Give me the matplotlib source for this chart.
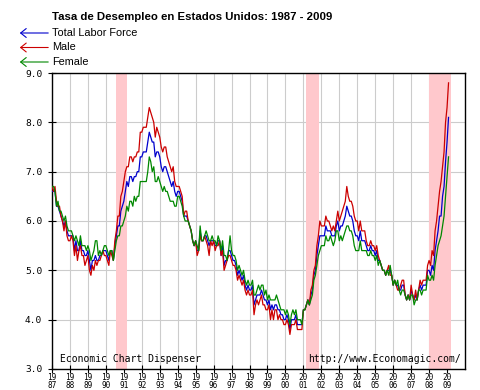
import numpy as np
import matplotlib
matplotlib.use("Agg")
import matplotlib.pyplot as plt
from matplotlib.patches import FancyArrowPatch

# monthly rates, Jan 1987 - Feb 2009 (one row per year)
total = [
    6.6, 6.6, 6.6, 6.3, 6.3, 6.2, 6.1, 6.0, 5.9, 6.0, 5.8, 5.7,
    5.7, 5.7, 5.7, 5.4, 5.6, 5.4, 5.4, 5.6, 5.4, 5.4, 5.3, 5.3,
    5.4, 5.2, 5.0, 5.2, 5.2, 5.3, 5.2, 5.2, 5.3, 5.3, 5.4, 5.4,
    5.4, 5.3, 5.2, 5.4, 5.4, 5.2, 5.5, 5.7, 5.9, 5.9, 6.2, 6.3,
    6.4, 6.6, 6.8, 6.7, 6.9, 6.9, 6.8, 6.9, 6.9, 7.0, 7.0, 7.3,
    7.3, 7.4, 7.4, 7.4, 7.6, 7.8, 7.7, 7.6, 7.6, 7.3, 7.4, 7.4,
    7.3, 7.1, 7.0, 7.1, 7.1, 7.0, 6.9, 6.8, 6.7, 6.8, 6.6, 6.5,
    6.6, 6.6, 6.5, 6.4, 6.1, 6.1, 6.1, 6.0, 5.9, 5.8, 5.6, 5.5,
    5.6, 5.4, 5.4, 5.8, 5.6, 5.6, 5.7, 5.7, 5.6, 5.5, 5.6, 5.6,
    5.6, 5.5, 5.5, 5.6, 5.6, 5.3, 5.5, 5.1, 5.2, 5.2, 5.4, 5.4,
    5.3, 5.2, 5.2, 5.1, 4.9, 5.0, 4.9, 4.8, 4.9, 4.7, 4.6, 4.7,
    4.6, 4.6, 4.7, 4.3, 4.4, 4.5, 4.5, 4.5, 4.6, 4.5, 4.4, 4.4,
    4.3, 4.4, 4.2, 4.3, 4.2, 4.3, 4.3, 4.2, 4.2, 4.1, 4.1, 4.0,
    4.0, 4.1, 4.0, 3.8, 4.0, 4.0, 4.0, 4.1, 3.9, 3.9, 3.9, 3.9,
    4.2, 4.2, 4.3, 4.4, 4.3, 4.5, 4.6, 4.9, 5.0, 5.3, 5.5, 5.7,
    5.7, 5.7, 5.7, 5.9, 5.8, 5.8, 5.8, 5.7, 5.7, 5.7, 5.9, 6.0,
    5.8, 5.9, 5.9, 6.0, 6.1, 6.3, 6.2, 6.1, 6.1, 6.0, 5.8, 5.7,
    5.7, 5.6, 5.8, 5.6, 5.6, 5.6, 5.5, 5.4, 5.4, 5.5, 5.4, 5.4,
    5.3, 5.4, 5.2, 5.2, 5.1, 5.0, 5.0, 4.9, 5.0, 5.0, 5.0, 4.9,
    4.7, 4.8, 4.7, 4.7, 4.6, 4.6, 4.7, 4.7, 4.5, 4.4, 4.5, 4.4,
    4.6, 4.5, 4.4, 4.5, 4.4, 4.6, 4.7, 4.6, 4.7, 4.7, 4.7, 5.0,
    5.0, 4.9, 5.1, 5.0, 5.4, 5.6, 5.8, 6.1, 6.1, 6.5, 6.7, 7.2,
    7.6, 8.1,
]
male = [
    6.7, 6.6, 6.7, 6.4, 6.3, 6.3, 6.1, 6.0, 5.8, 6.0, 5.7, 5.6,
    5.6, 5.7, 5.6, 5.3, 5.5, 5.2, 5.4, 5.5, 5.3, 5.3, 5.1, 5.2,
    5.3, 5.0, 4.9, 5.1, 5.0, 5.2, 5.1, 5.2, 5.2, 5.3, 5.4, 5.3,
    5.3, 5.2, 5.1, 5.4, 5.3, 5.2, 5.6, 5.8, 6.1, 6.1, 6.5, 6.6,
    6.8, 7.0, 7.1, 7.1, 7.3, 7.3, 7.2, 7.3, 7.3, 7.4, 7.4, 7.8,
    7.8, 7.9, 7.9, 7.9, 8.1, 8.3, 8.2, 8.1, 8.0, 7.7, 7.9, 7.8,
    7.7, 7.5, 7.4, 7.5, 7.5, 7.3, 7.2, 7.1, 7.0, 7.1, 6.8, 6.7,
    6.7, 6.7, 6.6, 6.5, 6.1, 6.2, 6.2, 6.0, 5.9, 5.8, 5.6, 5.5,
    5.6, 5.3, 5.4, 5.7, 5.6, 5.6, 5.7, 5.6, 5.5, 5.3, 5.6, 5.5,
    5.6, 5.4, 5.5, 5.5, 5.6, 5.3, 5.4, 5.0, 5.1, 5.2, 5.3, 5.3,
    5.2, 5.1, 5.1, 5.0, 4.8, 4.9, 4.8, 4.7, 4.8, 4.6, 4.5, 4.6,
    4.5, 4.5, 4.6, 4.1, 4.3, 4.4, 4.3, 4.4, 4.5, 4.3, 4.3, 4.2,
    4.2, 4.3, 4.0, 4.2, 4.0, 4.2, 4.2, 4.0, 4.1, 4.0, 4.0, 3.9,
    3.9, 4.0, 3.9, 3.7, 3.9, 3.9, 3.9, 4.0, 3.8, 3.8, 3.8, 3.8,
    4.2, 4.2, 4.3, 4.4, 4.3, 4.6, 4.7, 5.0, 5.1, 5.5, 5.7, 6.0,
    5.9, 5.9, 5.9, 6.1, 6.0, 6.0, 5.9, 5.8, 5.9, 5.8, 6.0, 6.2,
    6.0, 6.1, 6.2, 6.3, 6.4, 6.7, 6.5, 6.4, 6.4, 6.3, 6.1, 6.0,
    6.0, 5.8, 6.0, 5.8, 5.8, 5.8, 5.6, 5.5, 5.5, 5.6, 5.5, 5.5,
    5.4, 5.5, 5.3, 5.2, 5.1, 5.0, 5.0, 4.9, 5.0, 5.1, 4.9, 4.9,
    4.7, 4.8, 4.7, 4.6, 4.6, 4.7, 4.8, 4.8, 4.5, 4.4, 4.5, 4.4,
    4.7, 4.5, 4.4, 4.6, 4.4, 4.6, 4.8, 4.7, 4.8, 4.8, 4.8, 5.1,
    5.2, 5.1, 5.4, 5.3, 5.8, 6.0, 6.3, 6.6, 6.8, 7.1, 7.4, 8.0,
    8.3, 8.8,
]
female = [
    6.7, 6.7, 6.6, 6.3, 6.4, 6.2, 6.2, 6.1, 6.0, 6.1, 5.9, 5.8,
    5.8, 5.8, 5.7, 5.6, 5.7, 5.6, 5.5, 5.7, 5.5, 5.5, 5.5, 5.4,
    5.5, 5.4, 5.2, 5.3, 5.4, 5.6, 5.6, 5.3, 5.4, 5.3, 5.4, 5.5,
    5.5, 5.4, 5.3, 5.4, 5.4, 5.2, 5.4, 5.6, 5.7, 5.7, 5.9, 5.9,
    6.0, 6.1, 6.3, 6.2, 6.4, 6.4, 6.3, 6.5, 6.4, 6.5, 6.5, 6.8,
    6.8, 6.8, 6.8, 6.8, 7.0, 7.3, 7.2, 7.0, 7.1, 6.8, 6.8, 6.9,
    6.8, 6.7, 6.6, 6.7, 6.6, 6.6, 6.5, 6.4, 6.4, 6.4, 6.3, 6.3,
    6.5, 6.5, 6.4, 6.3, 6.1, 6.0, 6.0, 6.0, 5.9, 5.8, 5.6, 5.5,
    5.6, 5.5, 5.4, 5.9, 5.6, 5.6, 5.7, 5.8, 5.7, 5.6, 5.6, 5.7,
    5.6, 5.6, 5.5, 5.7, 5.6, 5.4, 5.6, 5.3, 5.3, 5.2, 5.4, 5.7,
    5.4, 5.3, 5.3, 5.2, 5.0, 5.1, 5.0, 4.9, 5.0, 4.8, 4.7, 4.8,
    4.7, 4.7, 4.8, 4.5, 4.5, 4.6, 4.7, 4.6, 4.7, 4.7, 4.5, 4.6,
    4.4, 4.5, 4.4, 4.4, 4.4, 4.4, 4.5, 4.4, 4.3, 4.2, 4.2, 4.2,
    4.1, 4.2, 4.1, 3.9, 4.1, 4.2, 4.1, 4.2, 4.0, 4.0, 4.0, 3.9,
    4.2, 4.2, 4.3, 4.4, 4.3, 4.4, 4.5, 4.8, 4.9, 5.1, 5.3, 5.4,
    5.5, 5.5, 5.5, 5.7, 5.6, 5.6, 5.7, 5.6, 5.5, 5.6, 5.8, 5.8,
    5.6, 5.7, 5.6, 5.7, 5.8, 5.9, 5.9, 5.8, 5.8, 5.7, 5.5, 5.4,
    5.4, 5.4, 5.6, 5.4, 5.4, 5.4, 5.4, 5.3, 5.3, 5.4, 5.3, 5.3,
    5.2, 5.3, 5.1, 5.2, 5.1, 5.0, 5.0, 4.9, 5.0, 4.9, 5.1, 4.9,
    4.7, 4.8, 4.7, 4.8, 4.6, 4.5, 4.6, 4.6, 4.5, 4.4, 4.5, 4.4,
    4.5, 4.5, 4.3, 4.4, 4.4, 4.6, 4.6, 4.5, 4.6, 4.6, 4.6, 4.9,
    4.8, 4.8, 4.9, 4.8, 5.1, 5.3, 5.5, 5.6, 5.7, 5.9, 6.1, 6.5,
    6.9, 7.3,
]
series_names = ["Total Labor Force", "Male", "Female"]
series_colors = ["#0000cc", "#cc0000", "#008800"]
recessions = [(1990.55, 1991.2), (2001.15, 2001.87), (2007.97, 2009.2)]
years = list(range(1987, 2010))
year_labels = [str(y)[:2] + "\n" + str(y)[2:] for y in years]
yticks = [3.0, 4.0, 5.0, 6.0, 7.0, 8.0, 9.0]

W, H = 480, 390
t = 1987 + np.arange(len(total)) / 12.0

fig = plt.figure(figsize=(4.8, 3.9), dpi=100)
ax = fig.add_axes([52 / W, 1 - 369 / H, (465 - 52) / W, (369 - 73) / H])

for a, b in recessions:
    ax.axvspan(a, b, color="#ffc8cc", lw=0, zorder=1)

for vals, c in zip([total, male, female], series_colors):
    ax.plot(t, vals, color=c, lw=0.9, zorder=3)

ax.set_xlim(1987, 2010)
ax.set_ylim(3, 9)
ax.set_yticks(yticks, ["%.1f" % v for v in yticks],
              family="DejaVu Sans Mono", fontsize=6.8)
ax.set_xticks(years, year_labels, family="DejaVu Sans Mono", fontsize=5.6,
              linespacing=0.85)
ax.grid(True, color="#cccccc", lw=0.8, zorder=0)
ax.set_axisbelow(True)
ax.tick_params(axis="both", direction="inout", length=6, width=0.8,
               color="black")
ax.tick_params(axis="y", pad=4)
ax.tick_params(axis="x", pad=0)
for s in ax.spines.values():
    s.set_color("black")
    s.set_linewidth(1)


def fpos(x, y):
    return x / W, 1 - y / H


fig.text(*fpos(52, 20), "Tasa de Desempleo en Estados Unidos: 1987 - 2009",
         family="Liberation Sans", fontweight="bold", fontsize=8.2,
         va="baseline")

for i, (name, c) in enumerate(zip(series_names, series_colors)):
    yy = 33 + i * 14.5
    arr = FancyArrowPatch(fpos(51, yy), fpos(17, yy), transform=fig.transFigure,
                          arrowstyle="->,head_length=0.5,head_width=0.4",
                          mutation_scale=8, color=c, lw=0.8)
    fig.add_artist(arr)
    fig.text(*fpos(52, yy), name, family="Liberation Sans", fontsize=7.8,
             va="center", ha="left")

fig.text(*fpos(60, 359), "Economic Chart Dispenser", family="DejaVu Sans Mono",
         fontsize=7, va="center", ha="left")
fig.text(*fpos(461, 359), "http://www.Economagic.com/",
         family="DejaVu Sans Mono", fontsize=7, va="center", ha="right")

fig.savefig("out.png", dpi=100)
